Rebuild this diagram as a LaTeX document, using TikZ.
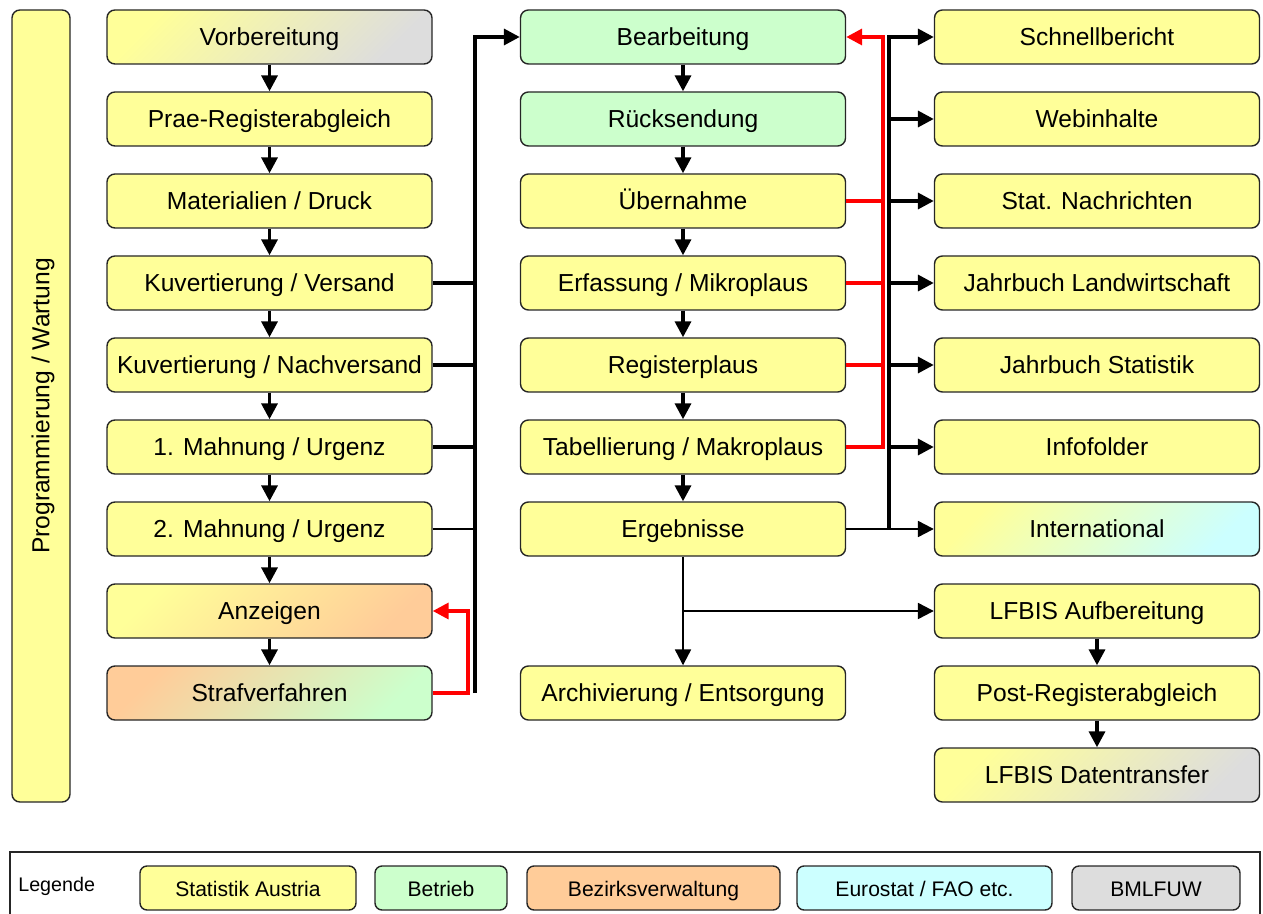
\documentclass[tikz,border=0pt]{standalone}
\usepackage{fontspec}
\setmainfont{Liberation Sans}
\usetikzlibrary{arrows.meta}

\definecolor{statyel}{HTML}{FFFF99}
\definecolor{betrgreen}{HTML}{CCFFCC}
\definecolor{bezorange}{HTML}{FFCC99}
\definecolor{eurocyan}{HTML}{CCFFFF}
\definecolor{bmlgrey}{HTML}{DDDDDD}

\tikzset{
	box/.style={draw=black!85,line width=0.8pt,rounded corners=4.5pt,
        minimum width=6.5cm,minimum height=1.08cm,inner sep=0pt,
        text height=0.95em,text depth=0pt,
        font=\fontsize{14}{17}\selectfont},
	stat/.style={box,fill=statyel},
	betr/.style={box,fill=betrgreen},
	mix/.style 2 args={box,top color=#1,bottom color=#2,shading angle=45},
	legbox/.style={draw=black!85,line width=0.8pt,rounded corners=4pt,
        minimum height=0.88cm,inner sep=0pt,text height=0.95em,text depth=0pt,
        font=\fontsize{12}{14}\selectfont}
}
\tikzset{
	blkline/.style={black,line width=2pt},
	conn/.style={blkline,-{Triangle[length=9pt,width=9pt]}},
	thinline/.style={black,line width=1.3pt},
	thinconn/.style={thinline,-{Triangle[length=9pt,width=9pt]}},
	redline/.style={red,line width=2pt},
	redconn/.style={redline,-{Triangle[length=9pt,width=9pt]}}
}

\begin{document}
\begin{tikzpicture}
\useasboundingbox (0,0) rectangle (25.26,-18.28);

%Programmierung
\node[stat,rotate=90,minimum width=15.84cm,minimum height=1.16cm] (prog) at (0.82,-8.12) {Programmierung / Wartung};

%linke Spalte
\node[mix={statyel}{bmlgrey}] (vorb) at (5.39,-0.74) {Vorbereitung};
\node[stat] (prae) at (5.39,-2.38) {Prae-Registerabgleich};
\node[stat] (mat) at (5.39,-4.02) {Materialien / Druck};
\node[stat] (vers) at (5.39,-5.66) {Kuvertierung / Versand};
\node[stat] (nachv) at (5.39,-7.30) {Kuvertierung / Nachversand};
\node[stat] (mahn1) at (5.39,-8.94) {1. Mahnung / Urgenz};
\node[stat] (mahn2) at (5.39,-10.58) {2. Mahnung / Urgenz};
\node[mix={statyel}{bezorange}] (anz) at (5.39,-12.22) {Anzeigen};
\node[mix={bezorange}{betrgreen}] (straf) at (5.39,-13.86) {Strafverfahren};

%mittlere Spalte
\node[betr] (bearb) at (13.66,-0.74) {Bearbeitung};
\node[betr] (rueck) at (13.66,-2.38) {Rücksendung};
\node[stat] (uebern) at (13.66,-4.02) {Übernahme};
\node[stat] (erf) at (13.66,-5.66) {Erfassung / Mikroplaus};
\node[stat] (regpl) at (13.66,-7.30) {Registerplaus};
\node[stat] (tab) at (13.66,-8.94) {Tabellierung / Makroplaus};
\node[stat] (erg) at (13.66,-10.58) {Ergebnisse};
\node[stat] (arch) at (13.66,-13.86) {Archivierung / Entsorgung};

%rechte Spalte
\node[stat] (schnell) at (21.94,-0.74) {Schnellbericht};
\node[stat] (web) at (21.94,-2.38) {Webinhalte};
\node[stat] (nachr) at (21.94,-4.02) {Stat. Nachrichten};
\node[stat] (jblw) at (21.94,-5.66) {Jahrbuch Landwirtschaft};
\node[stat] (jbst) at (21.94,-7.30) {Jahrbuch Statistik};
\node[stat] (info) at (21.94,-8.94) {Infofolder};
\node[mix={statyel}{eurocyan}] (intl) at (21.94,-10.58) {International};
\node[stat] (lfbis) at (21.94,-12.22) {LFBIS Aufbereitung};
\node[stat] (postreg) at (21.94,-13.86) {Post-Registerabgleich};
\node[mix={statyel}{bmlgrey}] (transfer) at (21.94,-15.50) {LFBIS Datentransfer};

\coordinate (ltrunk) at (9.50,0);
\coordinate (lred) at (9.36,0);
\coordinate (rtrunk) at (17.78,0);
\coordinate (rred) at (17.66,0);

%Pfeile links
\draw[conn] (vorb) -- (prae);
\draw[conn] (prae) -- (mat);
\draw[conn] (mat) -- (vers);
\draw[conn] (vers) -- (nachv);
\draw[conn] (nachv) -- (mahn1);
\draw[conn] (mahn1) -- (mahn2);
\draw[conn] (mahn2) -- (anz);
\draw[conn] (anz) -- (straf);

\draw[blkline] (vers.east) -- (vers.east -| ltrunk);
\draw[blkline] (nachv.east) -- (nachv.east -| ltrunk);
\draw[blkline] (mahn1.east) -- (mahn1.east -| ltrunk);
\draw[thinline] (mahn2.east) -- (mahn2.east -| ltrunk);
\draw[redconn] (straf.east) -- (straf.east -| lred) |- (anz.east);
\draw[conn] (straf.east -| ltrunk) |- (bearb.west);

%Pfeile Mitte
\draw[conn] (bearb) -- (rueck);
\draw[conn] (rueck) -- (uebern);
\draw[conn] (uebern) -- (erf);
\draw[conn] (erf) -- (regpl);
\draw[conn] (regpl) -- (tab);
\draw[conn] (tab) -- (erg);
\draw[thinconn] (erg) -- (arch);
\draw[thinconn] (erg.south |- lfbis.west) -- (lfbis.west);

\draw[redline] (uebern.east) -- (uebern.east -| rred);
\draw[redline] (erf.east) -- (erf.east -| rred);
\draw[redline] (regpl.east) -- (regpl.east -| rred);
\draw[redconn] (tab.east) -- (tab.east -| rred) |- (bearb.east);

%Pfeile rechts
\draw[conn] (erg.east -| rtrunk) |- (schnell.west);
\draw[conn] (web.west -| rtrunk) -- (web.west);
\draw[conn] (nachr.west -| rtrunk) -- (nachr.west);
\draw[conn] (jblw.west -| rtrunk) -- (jblw.west);
\draw[conn] (jbst.west -| rtrunk) -- (jbst.west);
\draw[conn] (info.west -| rtrunk) -- (info.west);
\draw[thinconn] (erg.east) -- (intl.west);
\draw[conn] (lfbis) -- (postreg);
\draw[conn] (postreg) -- (transfer);

%Legende
\draw[black!85,line width=0.9pt] (0.2,-17.04) rectangle (25.2,-18.6);
\node[anchor=west,inner sep=0pt,font=\fontsize{11.2}{13}\selectfont] (legende) at (0.36,-17.72) {Legende};
\node[legbox,fill=statyel,minimum width=4.32cm] (legstat) at (4.96,-17.76) {Statistik Austria};
\node[legbox,fill=betrgreen,minimum width=2.64cm] (legbetr) at (8.82,-17.76) {Betrieb};
\node[legbox,fill=bezorange,minimum width=5.06cm] (legbez) at (13.07,-17.76) {Bezirksverwaltung};
\node[legbox,fill=eurocyan,minimum width=5.10cm] (legeuro) at (18.49,-17.76) {Eurostat / FAO etc.};
\node[legbox,fill=bmlgrey,minimum width=3.36cm] (legbml) at (23.12,-17.76) {BMLFUW};
\end{tikzpicture}
\end{document}
